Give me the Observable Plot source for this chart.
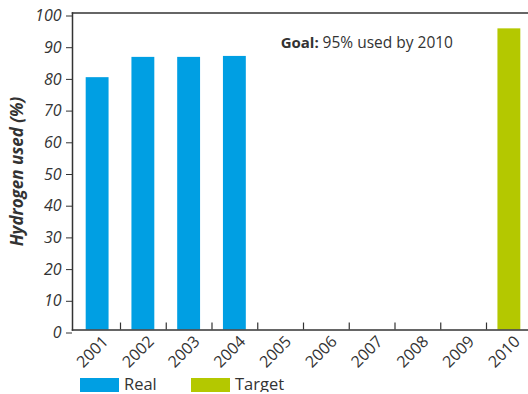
<!DOCTYPE html>
<html>
<head>
<meta charset="utf-8">
<script src="https://cdn.jsdelivr.net/npm/d3@7"></script>
<script src="https://cdn.jsdelivr.net/npm/@observablehq/plot@0.6"></script>
<style>
  body { margin: 0; background: #fff; font-family: "Open Sans", sans-serif; }
  #chart svg { display: block; }
  .legend { display: flex; align-items: flex-start; margin-left: 80px; margin-top: 6px; font-size: 16.5px; color: #333; line-height: 14px; }
  .legend .item { display: flex; align-items: flex-start; }
  .legend .sw { width: 39px; height: 14px; margin-right: 5px; }
  .legend span { position: relative; top: -1px; }
</style>
</head>
<body>
<div id="chart"></div>
<div class="legend" id="legend"></div>
<script>
const years = ["2001","2002","2003","2004","2005","2006","2007","2008","2009","2010"];
const realYears = ["2001","2002","2003","2004"];
const realValues = [79.6, 86.0, 86.0, 86.3];
const targetYears = ["2010"];
const targetValues = [95];
const yTicks = [0,10,20,30,40,50,60,70,80,90,100];
const yLabel = "Hydrogen used (%)";
const goalBold = "Goal:";
const goalText = "95% used by 2010";
const seriesNames = ["Real", "Target"];
const colors = ["#009fe3", "#b4c800"];

const real = realYears.map((year, i) => ({year, value: realValues[i]}));
const target = targetYears.map((year, i) => ({year, value: targetValues[i]}));

const xRange = [74.25, 531.75];
const step = (xRange[1] - xRange[0]) / years.length;
const axisColor = "#333";
const fontFam = "'Open Sans', sans-serif";

// measure bold label width so the regular text follows it
const ctx = document.createElement("canvas").getContext("2d");
ctx.font = `bold 15px 'Open Sans'`;
const boldW = ctx.measureText(goalBold + " ").width;

const chart = Plot.plot({
  width: 528,
  height: 372,
  marginLeft: 72,
  marginRight: 0,
  marginTop: 12.5,
  marginBottom: 42.5,
  style: {fontFamily: fontFam, color: axisColor, background: "#fff"},
  x: {domain: years, range: xRange, paddingInner: 0.5, paddingOuter: 0.25, round: false},
  y: {domain: [0, 100]},
  marks: [
    Plot.barY(real, {x: "year", y: "value", fill: colors[0]}),
    Plot.barY(target, {x: "year", y: "value", fill: colors[1]}),
    Plot.frame({anchor: "left", stroke: axisColor, strokeWidth: 1.5}),
    Plot.frame({anchor: "top", stroke: axisColor, strokeWidth: 1.5}),
    Plot.frame({anchor: "bottom", stroke: axisColor, strokeWidth: 1.5}),
    Plot.ruleX(years.slice(0, -1), {x: d => d, dx: step / 2, y1: 0, y2: 2.2, stroke: axisColor, strokeWidth: 1.2}),
    Plot.axisY({ticks: yTicks, tickSize: 6, tickPadding: 5, fontSize: 16, fontStyle: "italic", label: null, stroke: axisColor, dy: 3}),
    Plot.axisX({tickSize: 0, tickRotate: -45, tickPadding: 9, fontSize: 16, label: null, dx: 8}),
    Plot.text([yLabel], {frameAnchor: "left", textAnchor: "middle", rotate: -90, dx: -55, fontSize: 17, fontWeight: "bold", fontStyle: "italic", fill: axisColor}),
    Plot.text([goalBold], {x: () => "2005", y: () => 90.6, textAnchor: "start", dx: 0, fontSize: 15, fontWeight: "bold", fill: axisColor}),
    Plot.text([goalText], {x: () => "2005", y: () => 90.6, textAnchor: "start", dx: boldW, fontSize: 15.5, fill: axisColor})
  ]
});
document.getElementById("chart").appendChild(chart);

const legend = document.getElementById("legend");
seriesNames.forEach((name, i) => {
  const item = document.createElement("div");
  item.className = "item";
  item.style.width = i === 0 ? "111px" : "auto";
  const sw = document.createElement("div");
  sw.className = "sw";
  sw.style.background = colors[i];
  const t = document.createElement("span");
  t.textContent = name;
  item.appendChild(sw);
  item.appendChild(t);
  legend.appendChild(item);
});
</script>
</body>
</html>
